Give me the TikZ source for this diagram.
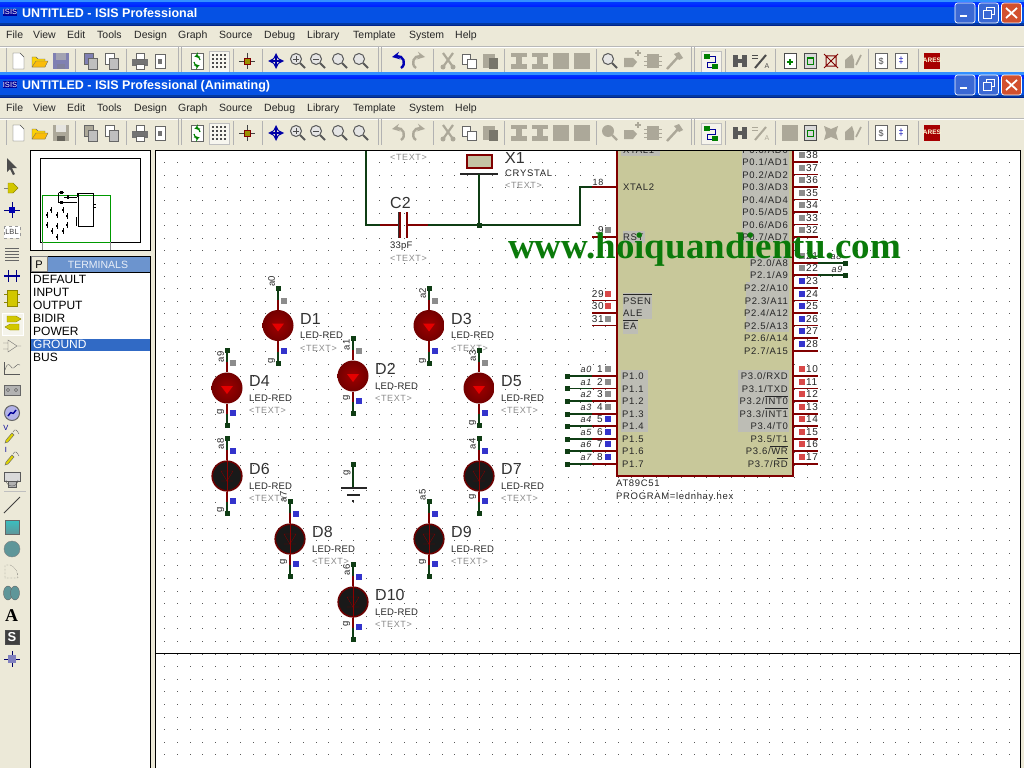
\documentclass[tikz,border=0pt]{standalone}
\usepackage{fontspec}
\setmainfont{Liberation Sans}
\newfontfamily\isisf[LetterSpace=7]{Liberation Sans}
\newfontfamily\isisn[LetterSpace=2]{Liberation Sans}
\newfontfamily\wmf{Liberation Serif}
\definecolor{xpbg}{HTML}{ECE9D8}
\definecolor{dis}{HTML}{ACA899}
\definecolor{wgreen}{HTML}{0F3D14}
\definecolor{pinred}{HTML}{800000}
\definecolor{chip}{HTML}{C8C89A}
\definecolor{patch}{HTML}{BDBDB5}
\definecolor{sqgray}{HTML}{8C8C8C}
\definecolor{sqblue}{HTML}{3333CC}
\definecolor{sqred}{HTML}{D84848}
\definecolor{teal}{HTML}{5F9699}
\definecolor{wm}{HTML}{0A7A0A}
\definecolor{HBlue}{HTML}{0551E4}
\definecolor{HDark}{HTML}{00238C}
\definecolor{btnblue}{HTML}{3A68D4}
\definecolor{btnred}{HTML}{D2502E}
\definecolor{sel}{HTML}{316AC5}
\definecolor{tabhead}{HTML}{6C94CE}
\tikzset{
 menutext/.style={anchor=west,inner sep=0pt,text height=8pt,text depth=2pt,font=\fontsize{10.5}{11}\selectfont,text=black!85},
 titletext/.style={anchor=west,inner sep=0pt,text height=9pt,text depth=2pt,font=\bfseries\fontsize{12.5}{13}\selectfont,text=white},
 bigl/.style={anchor=west,inner sep=0pt,font=\fontsize{16}{16}\selectfont,text=black!80},
 midl/.style={anchor=west,inner sep=0pt,text height=7pt,text depth=0pt,font=\isisn\fontsize{9.5}{10}\selectfont,text=black!85},
 widel/.style={anchor=west,inner sep=0pt,text height=7pt,text depth=0pt,font=\isisf\fontsize{9.5}{10}\selectfont,text=black!85},
 txtl/.style={anchor=west,inner sep=0pt,text height=7pt,text depth=0pt,font=\isisf\fontsize{9}{9}\selectfont,text=black!45},
 rotl/.style={inner sep=0pt,rotate=90,font=\isisn\fontsize{9.5}{10}\selectfont,text=black!85},
 pinl/.style={inner sep=0pt,text height=7pt,text depth=0pt,font=\isisf\fontsize{9.5}{10}\selectfont,text=black!85},
 numl/.style={inner sep=0pt,text height=7.5pt,text depth=0pt,font=\isisf\fontsize{10}{10}\selectfont,text=black!85},
 wlabel/.style={inner sep=0pt,text height=7pt,text depth=0pt,font=\isisf\fontsize{9}{9}\selectfont,text=black!85},
 listl/.style={anchor=west,inner sep=0pt,text height=8pt,text depth=1pt,font=\fontsize{12}{12}\selectfont},
 wirep/.style={wgreen,line width=1.4pt},
 wirer/.style={pinred,line width=1.4pt},
 sep/.style={black!30,line width=.7pt},
}
\newcommand\ic[3]{\begin{scope}[shift={(#1,#2)}]#3\end{scope}}
\newcommand\sq[3]{\fill[#3] (#1-3,#2-3) rectangle (#1+3,#2+3);}
\newcommand\icNew{\draw[black!70,fill=white] (-5,-8)--(2,-8)--(6,-4)--(6,8)--(-5,8)--cycle;}
\newcommand\icOpen{\fill[yellow!70!orange,draw=black!60] (-8,6)--(-8,-4)--(-4,-4)--(-2,-2)--(5,-2)--(5,6)--cycle;\draw[black!60,fill=yellow!50!orange] (-8,6)--(-4,0)--(8,0)--(5,6)--cycle;}
\newcommand\icSave[1]{\fill[#1] (-8,-8) rectangle (8,8);\fill[white!70!#1] (-5,-8) rectangle (5,-1);\fill[black!40!#1] (-4,3) rectangle (4,8);}
\newcommand\icDoc[1]{\draw[black!60,fill=#1] (-6,-8) rectangle (3,3);\draw[black!60,fill=black!25] (-2,-3) rectangle (7,8);}
\newcommand\icPrint{\fill[black!55] (-8,-2) rectangle (8,5);\fill[white,draw=black!60] (-4,-8) rectangle (4,-2);\fill[white,draw=black!60] (-4,3) rectangle (4,8);}
\newcommand\icPage{\draw[black!60,fill=white] (-5,-7) rectangle (5,7);\fill[black!55] (-2,-2) rectangle (2,3);}
\newcommand\icSync{\draw[black!60,fill=white] (-6,-8) rectangle (6,8);\draw[green!50!black,line width=1.2pt,->,>=stealth] (-3,1) arc (180:60:3.5);\draw[green!50!black,line width=1.2pt,->,>=stealth] (3,-1) arc (0:-120:3.5);}
\newcommand\icGrid{\fill[white!60!xpbg,draw=black!25] (-10,-10) rectangle (10,11);\foreach \a in {-6,-2,2,6}{\foreach \b in {-6,-2,2,6}{\fill[black!70] (\a-.6,\b-.6) rectangle (\a+.6,\b+.6);}}}
\newcommand\icOrigin{\draw[black!75] (-8,0)--(8,0) (0,-8)--(0,8);\fill[olive!90!yellow,draw=red!50!black] (-3,-3) rectangle (3,3);}
\newcommand\icPan{\draw[blue!65!black,line width=1.8pt,<->,>=stealth] (-8,0)--(8,0);\draw[blue!65!black,line width=1.8pt,<->,>=stealth] (0,-8)--(0,8);}
\newcommand\icZoom[1]{\draw[black!65,fill=black!10,line width=1pt] (-2,-2) circle (5.5);\draw[black!65,line width=2pt] (2,2)--(7,7);#1}
\newcommand\icUndo[1]{\draw[#1,line width=2.4pt,->,>=stealth] (3,7) .. controls (9,3) and (5,-6) .. (-6,-4);}
\newcommand\icRedo[1]{\draw[#1,line width=2.4pt,->,>=stealth] (-3,7) .. controls (-9,3) and (-5,-6) .. (6,-4);}
\newcommand\icCut{\draw[dis,line width=2.2pt] (-5,-8)--(5,6) (5,-8)--(-5,6);\fill[dis] (-5,6) circle (2.5) (5,6) circle (2.5);}
\newcommand\icCopy{\draw[black!60,fill=white] (-7,-7) rectangle (1,3);\draw[black!60,fill=white] (-2,-2) rectangle (7,7);}
\newcommand\icPaste{\fill[dis] (-7,-7) rectangle (5,7);\fill[dis!70!black] (-1,-3) rectangle (8,8);}
\newcommand\icAlign{\fill[dis] (-8,-8) rectangle (8,-4);\fill[dis] (-3,-4) rectangle (3,3);\fill[dis] (-8,3) rectangle (8,8);}
\newcommand\icBlock{\fill[dis] (-8,-8) rectangle (8,8);}
\newcommand\icChip{\fill[dis] (-6,-7) rectangle (6,7);\draw[dis,line width=1pt] (-9,-4)--(9,-4) (-9,0)--(9,0) (-9,4)--(9,4);}
\newcommand\icPlace{\fill[dis] (-8,-3)--(1,-3)--(5,1)--(1,6)--(-8,6)--cycle;\draw[dis,line width=1.4pt] (3,-8)--(9,-8) (6,-11)--(6,-5);}
\newcommand\icHammer{\draw[dis,line width=2.4pt] (-7,8)--(4,-4);\fill[dis] (0,-7)--(5,-9)--(9,-3)--(5,-1)--cycle;}
\newcommand\icNet{\fill[white!50!xpbg,draw=black!25] (-10,-10) rectangle (10,11);\fill[green!50!black] (-7,-7) rectangle (-1,-2);\fill[green!50!black] (1,3) rectangle (7,8);\draw[blue!60!black,line width=1pt] (-1,-4)--(4,-4)--(4,1)--(-4,1)--(-4,6)--(1,6);}
\newcommand\icBino{\fill[black!65] (-7,-6) rectangle (-2,6);\fill[black!65] (2,-6) rectangle (7,6);\fill[black!65] (-2,-2) rectangle (2,2);}
\newcommand\icWrench[1]{\draw[#1,line width=2pt] (-6,7)--(5,-6);\draw[#1] (-9,-6)--(-3,-6) (-9,-3)--(-3,-3);\node[inner sep=0pt,font=\fontsize{7}{7}\selectfont,text=#1] at (6,5) {A};}
\newcommand\icSheet[2]{\draw[black!70,fill=#1] (-6,-8) rectangle (6,7);#2}
\newcommand\icX[1]{\fill[#1] (-7,-7)--(0,-4)--(7,-7)--(5,0)--(7,7)--(0,4)--(-7,7)--(-5,0)--cycle;}
\newcommand\icHouse{\fill[dis] (-8,7)--(-8,-1)--(-1,-7)--(1,-1)--(1,7)--cycle;\draw[dis,line width=1.6pt] (8,-6)--(3,4);}
\newcommand\icDollar[2]{\draw[black!60,fill=white] (-6,-8) rectangle (6,7);\node[inner sep=0pt,font=\fontsize{9}{9}\selectfont,text=#2] at (0,0) {#1};}
\newcommand\icAres{\fill[red!65!black] (-8,-8) rectangle (8,8);\node[inner sep=0pt,font=\bfseries\fontsize{6.5}{7}\selectfont,text=white!85!yellow] at (0,-1) {ARES};}
\newcommand\toolbar[5]{%
 \foreach \p in {75,126,233,262,433,504,596,725,775,868,918}{\draw[sep] (\p,#1-12)--(\p,#1+12);}
 \foreach \p in {178,378,691}{\draw[sep] (\p,#1-14)--(\p,#1+12);\draw[sep] (\p+3,#1-14)--(\p+3,#1+12);}
 \draw[sep] (6,#1-13)--(6,#1+12);
 \ic{18}{#1}{\icNew}\ic{40}{#1}{\icOpen}\ic{61}{#1}{\icSave{#2}}
 \ic{90}{#1}{\icDoc{#3}}\ic{111}{#1}{\icDoc{white}}
 \ic{140}{#1}{\icPrint}\ic{160}{#1}{\icPage}
 \ic{197}{#1}{\icSync}\ic{219}{#1}{\icGrid}\ic{247}{#1}{\icOrigin}\ic{276}{#1}{\icPan}
 \ic{298}{#1}{\icZoom{\draw[black!70] (-5,-2)--(1,-2) (-2,-5)--(-2,1);}}
 \ic{318}{#1}{\icZoom{\draw[black!70] (-5,-2)--(1,-2);}}
 \ic{340}{#1}{\icZoom{}}\ic{361}{#1}{\icZoom{}}
 \ic{398}{#1}{\icUndo{#4}}\ic{419}{#1}{\icRedo{dis}}
 \ic{448}{#1}{\icCut}\ic{469}{#1}{\icCopy}\ic{490}{#1}{\icPaste}
 \ic{519}{#1}{\icAlign}\ic{540}{#1}{\icAlign}\ic{561}{#1}{\icBlock}\ic{582}{#1}{\icBlock}
 \ic{610}{#1}{#5}\ic{632}{#1}{\icPlace}\ic{653}{#1}{\icChip}\ic{674}{#1}{\icHammer}
 \ic{711}{#1}{\icNet}\ic{740}{#1}{\icBino}
 \ic{810}{#1}{\icSheet{black!15}{\draw[green!50!black,line width=1pt] (-3,-3) rectangle (3,3);}}
 \ic{853}{#1}{\icHouse}\ic{881}{#1}{\icDollar{\$}{black!70}}\ic{901}{#1}{\icDollar{\char"2021}{blue!70!black}}\ic{932}{#1}{\icAres}
}
\newcommand\titlebar[2]{%
 \fill[blue!55!cyan!80!white] (0,#1) rectangle (1024,#1+3);
 \fill[top color=blue!80!cyan,bottom color=blue!90!cyan] (0,#1+3) rectangle (1024,#1+7);
 \fill[HBlue] (0,#1+7) rectangle (1024,#1+23);
 \fill[black!30!HBlue] (0,#1+23) rectangle (1024,#1+25);
 \fill[HDark] (0,#1+25) rectangle (1024,#1+26);
 \node[fill=blue!60!black,inner sep=.4pt,text height=6pt,text depth=1pt,font=\fontsize{7.5}{8}\selectfont,text=white] (logo#1) at (10,#1+12.5) {ISIS};
 \node[titletext] (title#1) at (22,#1+14.3) {#2};
 \foreach \bx/\bc in {965/btnblue,988.5/btnblue,1011.5/btnred}{\fill[\bc,draw=white,rounded corners=2.5pt,line width=.7pt] (\bx-10,#1+3) rectangle (\bx+10,#1+23);}
 \fill[white] (960,#1+15) rectangle (967,#1+17);
 \draw[white,line width=.9pt] (983,#1+10) rectangle (991,#1+18);\draw[white,line width=.9pt] (986,#1+10)--(986,#1+7)--(994,#1+7)--(994,#1+14)--(991,#1+14);
 \draw[white,line width=1.8pt] (1006,#1+8)--(1017,#1+18) (1017,#1+8)--(1006,#1+18);
 \foreach \m/\t in {6/File,33/View,67/Edit,97/Tools,134/Design,178/Graph,219/Source,264/Debug,307/Library,353/Template,409/System,455/Help}{\node[menutext] at (\m,#1+36) {\t};}
 \draw[black!28] (0,#1+46)--(1024,#1+46);
 \draw[white] (0,#1+47)--(1024,#1+47);
}
% name,x,y,live,top square,bottom square,dy of top label,top label,dy of g label
\newcommand\led[9]{%
 \coordinate (#1t) at (#2,#3-37.5);\coordinate (#1b) at (#2,#3+37.5);
 \ifnum#4=1
  \node[circle,minimum size=31pt,inner sep=0pt,inner color=red!62!black,outer color=red!45!black] (#1c) at (#2,#3) {};
  \fill[red!90!black] (#2-6,#3-2)--(#2+6,#3-2)--(#2,#3+6)--cycle;
 \else
  \node[circle,minimum size=29.6pt,inner sep=0pt,fill=black!90,draw=red!42!black,line width=1.6pt] (#1c) at (#2,#3) {};
  \draw[red!50!black] (#2-6,#3-5)--(#2+6,#3-5)--(#2,#3+5)--cycle (#2-6,#3+5)--(#2+6,#3+5);
  \draw[red!55!black,line width=1pt] (#1c.north)--(#1c.south);
 \fi
 \draw[wirep] (#1t)--(#2,#3-22);\draw[wirer] (#2,#3-26)--(#1c.north);
 \draw[wirep] (#1b)--(#2,#3+22);\draw[wirer] (#2,#3+26)--(#1c.south);
 \fill[wgreen] (#2-2.5,#3-40) rectangle (#2+2.5,#3-35);
 \fill[wgreen] (#2-2.5,#3+35) rectangle (#2+2.5,#3+40);
 \sq{#2+6}{#3-25}{#5}\sq{#2+6}{#3+25}{#6}
 \node[rotl] (#1lt) at (#2-6.5,#3+#7) {#8};
 \node[rotl] (#1lb) at (#2-6.5,#3+#9) {g};
 \node[bigl] (#1n) at (#2+22,#3-7) {#1};
 \node[midl] (#1m) at (#2+22,#3+9.5) {LED-RED};
 \node[txtl] (#1x) at (#2+22,#3+22) {<TEXT>};
}
\begin{document}
\begin{tikzpicture}[x=1pt,y=-1pt]
\useasboundingbox (0,0) rectangle (1024,768);
\fill[xpbg] (0,0) rectangle (1024,768);
\titlebar{0}{UNTITLED - ISIS Professional}
\toolbar{61}{blue!40!black!50}{blue!40!black!50}{blue!70!black}{\icZoom{}}
\ic{761}{61}{\icWrench{black!70}}\ic{790}{61}{\icSheet{white}{\draw[green!50!black,line width=1.6pt] (-3,1)--(3,1) (0,-2)--(0,4);}}
\ic{831}{61}{\draw[red!50!black,line width=1pt] (-7,-7)--(7,7) (7,-7)--(-7,7) (-5,-5) rectangle (5,5);}
\titlebar{72}{UNTITLED - ISIS Professional (Animating)}
\toolbar{133}{dis}{dis}{dis}{\fill[dis] (-2,-2) circle (6);\draw[dis,line width=2.2pt] (2,2)--(7,7);}
\ic{761}{133}{\icWrench{dis}}\ic{790}{133}{\icBlock}\ic{831}{133}{\icX{dis}}
% ---------- left tool column
\ic{12}{166}{\fill[black!70] (-5,-8)--(-5,6)--(-2,3)--(1,9)--(3,8)--(0,2)--(5,2)--cycle;}
\ic{12}{188}{\fill[yellow!60!olive,draw=olive] (-4,-5)--(1,-5)--(6,0)--(1,5)--(-4,5)--cycle;\draw[black!50] (-8,0)--(-4,0);}
\ic{12}{210}{\draw[blue!50!black] (-8,0)--(8,0) (0,-8)--(0,8);\fill[blue!70!black] (-3,-3) rectangle (3,3);}
\ic{12}{232}{\draw[black!40,dashed,fill=white] (-8,-6) rectangle (8,6);\node[inner sep=0pt,font=\fontsize{7.5}{8}\selectfont,text=black!75] (lblicon) at (0,0) {LBL};}
\ic{12}{254}{\draw[black!60] (-7,-6)--(7,-6) (-7,-3)--(7,-3) (-7,0)--(7,0) (-7,3)--(7,3) (-7,6)--(7,6);}
\ic{12}{276}{\draw[blue!60!black,line width=2pt] (-8,0)--(8,0);\draw[blue!50!black] (-4,-6)--(-4,6) (4,-6)--(4,6);}
\ic{12}{298}{\fill[yellow!60!olive,draw=olive] (-5,-8) rectangle (5,8);\draw[olive] (-8,-4)--(-5,-4) (-8,4)--(-5,4) (5,-4)--(8,-4) (5,4)--(8,4);}
\draw[white,fill=white!50!xpbg] (2,313) rectangle (23,335);
\ic{13}{323}{\fill[yellow!60!olive,draw=olive] (-6,-7)--(3,-7)--(8,-4)--(3,-1)--(-6,-1)--cycle;\fill[yellow!60!olive,draw=olive] (-8,4)--(-3,1)--(6,1)--(6,7)--(-3,7)--cycle;}
\ic{12}{346}{\draw[black!60] (-4,-6)--(-4,6)--(5,0)--cycle (-9,-3)--(-4,-3) (-9,3)--(-4,3) (5,0)--(9,0);}
\ic{12}{368}{\draw[black!65] (-8,6)--(-8,-6) (-8,6)--(8,6);\draw[black!65] (-7,2) .. controls (-4,-8) and (-2,-2) .. (0,0) .. controls (2,2) and (5,-6) .. (8,-3);}
\ic{12}{390}{\fill[black!30,draw=black!60] (-8,-5) rectangle (8,5);\draw[black!70] (-4,0) circle (1.6) (4,0) circle (1.6);}
\ic{12}{413}{\fill[black!30!blue!30!white,draw=black!60,line width=1pt] (0,0) circle (7.5);\draw[blue!60!black,line width=1.4pt] (-4,3) .. controls (-1,-1) and (-1,-1) .. (0,0) .. controls (1,1) and (1,1) .. (4,-3);}
\ic{12}{435}{\fill[yellow!70!olive,draw=black!60] (-7,8)--(-6,5)--(0,-2)--(2,0)--(-4,7)--cycle;\draw[black!60] (1,-3) .. controls (3,-7) and (5,-5) .. (7,-1);\node[inner sep=0pt,font=\fontsize{7.5}{8}\selectfont,text=blue!60!black] (vicon) at (-6,-7) {V};}
\ic{12}{457}{\fill[yellow!70!olive,draw=black!60] (-7,8)--(-6,5)--(0,-2)--(2,0)--(-4,7)--cycle;\draw[black!60] (1,-3) .. controls (3,-7) and (5,-5) .. (7,-1);\node[inner sep=0pt,font=\fontsize{7.5}{8}\selectfont,text=blue!60!black] (iicon) at (-6,-7) {I};}
\ic{12}{479}{\draw[black!65,fill=black!15] (-8,-7) rectangle (8,2);\draw[black!65,fill=black!30] (-4,2) rectangle (4,8);\draw[black!65] (-6,1) arc (180:0:6);}
\draw[black!25] (4,491)--(26,491);
\draw[black!75,line width=1pt] (4,513)--(20,497);
\draw[black!60,top color=teal!60!cyan,bottom color=teal,line width=1pt] (5,520) rectangle (19,534);
\fill[teal,draw=black!50] (12,549) circle (8);
\draw[black!75,densely dotted] (5,578)--(5,565)--(10,565) .. controls (15,566) and (18,572) .. (18,578)--cycle;
\fill[teal,draw=black!60] (8,593) ellipse (4.5 and 7);\fill[teal,draw=black!60] (15,593) ellipse (4.5 and 7);
\node[inner sep=0pt,font=\bfseries\fontsize{18}{18}\selectfont] (aicon) at (11.5,615.5) {\wmf A};
\draw[black!70,fill=black!75] (5,630) rectangle (19,644);
\node[inner sep=0pt,font=\bfseries\fontsize{13}{13}\selectfont,text=white] (sicon) at (12,637) {S};
\draw[blue!40!black] (4,659)--(20,659) (12,651)--(12,667);\fill[black!50!blue!50!white] (8,655) rectangle (16,663);
% ---------- side panel
\fill[white] (31,151) rectangle (150,768);
\draw[black,line width=.9pt] (30.5,150.5) rectangle (150.5,250.5);
\draw[black,line width=.9pt] (40.5,158.5) rectangle (140.5,242);
\draw[green!60!black,line width=.8pt] (42.5,195.5)--(110,195.5)--(110,242)--(42.5,242)--cycle;
\draw[black!45] (42.5,242)--(42.5,250) (110,242)--(110,250);
\draw[black,line width=.8pt] (78,193.5) rectangle (93,226);
\draw[black,line width=.8pt] (58.5,192.5)--(58.5,202)--(77,202) (64,197)--(77,197) (77,197)--(77,193) (58.5,192.5)--(64,192.5);
\fill[black] (60,191) rectangle (63,194);\fill[black] (60,201) rectangle (63,204);
\fill[black] (67,195) rectangle (69,199);
\foreach \a/\b in {51/210,57/215,63/210,47/215,67/216,47/225,57/226,67/225,52/231,63/231,57/237}{\fill[black] (\a-.4,\b-3) rectangle (\a+.4,\b+3);\fill[black] (\a-1,\b-1) rectangle (\a+1,\b+1);}
\fill[black] (75.5,217) rectangle (77,226);
\fill[black] (94,204) rectangle (96,205);\fill[black] (94,207) rectangle (96,208);
\fill[xpbg] (31,251) rectangle (150,256);
\draw[black,line width=.9pt] (30.5,256) rectangle (150.5,272);
\fill[tabhead] (48,256.5) rectangle (150,271.5);
\draw[black!50,fill=xpbg] (31,256.5) rectangle (47,271.5);
\node[inner sep=0pt,text height=8pt,text depth=0pt,font=\fontsize{11}{11}\selectfont] (ptab) at (39,264) {P};
\node[inner sep=0pt,text height=8pt,text depth=0pt,font=\fontsize{10.5}{11}\selectfont,text=white!85!tabhead] (terms) at (98,264) {TERMINALS};
\draw[black,line width=.9pt] (30.5,272)--(30.5,768) (150.5,272)--(150.5,768);
\fill[sel] (31,338.5) rectangle (150,351);
\foreach \yy/\t/\c in {280/DEFAULT/black,293/INPUT/black,306/OUTPUT/black,319/BIDIR/black,332/POWER/black,345/GROUND/white,358/BUS/black}{\node[listl,text=\c] at (33,\yy) {\t};}
% ---------- canvas
\fill[white] (156,151) rectangle (1020,768);
\begin{scope}
\clip (156,151) rectangle (1020,768);
\foreach \i in {-3,...,65}{\foreach \j in {-10,...,38}{\fill[black!65] ({202.7+12.6*\i-.5},{276+12.6*\j-.5}) rectangle ++(1,1);}}
% chip
\fill[chip] (617,140) rectangle (793,476);
\fill[patch] (621,142) rectangle (660,156);
\fill[patch] (742,142) rectangle (789,242);
\fill[patch] (750,256) rectangle (789,282);
\fill[patch] (746,282) rectangle (789,332);
\fill[patch] (623,231) rectangle (645,243);
\fill[patch] (623,293) rectangle (652,319);
\fill[patch] (623,319) rectangle (638,334);
\fill[patch] (621,370) rectangle (648,432);
\fill[patch] (738,370) rectangle (789,432);
\draw[pinred,line width=2pt] (617,140) rectangle (793,476);
\foreach \yy/\a/\b/\n/\c in {150/P0.0/AD0/39/sqgray,162/P0.1/AD1/38/sqgray,174.5/P0.2/AD2/37/sqgray,187/P0.3/AD3/36/sqgray,199.5/P0.4/AD4/35/sqgray,212/P0.5/AD5/34/sqgray,224.5/P0.6/AD6/33/sqgray,237/P0.7/AD7/32/sqgray,263/P2.0/A8/21/sqgray,275/P2.1/A9/22/sqgray,288/P2.2/A10/23/sqblue,300.5/P2.3/A11/24/sqblue,313/P2.4/A12/25/sqblue,325.5/P2.5/A13/26/sqblue,338/P2.6/A14/27/sqblue,351/P2.7/A15/28/sqblue,376/P3.0/RXD/10/sqred,388.5/P3.1/TXD/11/sqred,401/P3.2/INT0/12/sqred,414/P3.3/INT1/13/sqred,426/P3.4/T0/14/sqred,439/P3.5/T1/15/sqred,451/P3.6/WR/16/sqred,464/P3.7/RD/17/sqred}{
 \node[pinl,anchor=east] at (788,\yy) {\a/\b};
 \draw[wirer] (793,\yy)--(818,\yy);
 \node[numl,anchor=west] at (806,\yy-7) {\n};
 \sq{802}{\yy-7}{\c}
}
\foreach \yy/\t/\n/\c in {150/XTAL1/19/sqgray,187/XTAL2/18/sqgray,237/RST/9/sqgray,300.5/PSEN/29/sqred,313/ALE/30/sqred,325.5/EA/31/sqgray}{
 \node[pinl,anchor=west] at (623,\yy) {\t};
 \draw[wirer] (592,\yy)--(617,\yy);
}
\foreach \yy/\n/\c in {237/9/sqgray,300.5/29/sqred,313/30/sqred,325.5/31/sqgray}{
 \node[numl,anchor=east] at (604,\yy-7) {\n};
 \sq{608}{\yy-7}{\c}
}
\node[numl] (n18) at (598,182) {\fontsize{9}{9}\selectfont 18};
\draw[black!85,line width=.7pt] (623,294)--(652,294) (623,320)--(638,320) (765,396)--(788,396) (765,408)--(788,408) (770,446)--(788,446) (777,458)--(788,458);
\foreach \yy/\t/\n/\c in {376/0/1/sqgray,388.5/1/2/sqgray,401/2/3/sqgray,414/3/4/sqgray,426/4/5/sqblue,439/5/6/sqblue,451/6/7/sqblue,464/7/8/sqblue}{
 \coordinate (px\t) at (617,\yy);\coordinate (pe\t) at (567,\yy);
 \node[pinl,anchor=west] at (622,\yy) {P1.\t};
 \draw[wirer] (px\t)--(592,\yy);
 \draw[wirep] (592,\yy)--(pe\t);
 \fill[wgreen] (564.5,\yy-2.5) rectangle (569.5,\yy+2.5);
 \node[wlabel] at (586,\yy-7) {\em a\t};
 \node[numl] at (600,\yy-7) {\n};
 \sq{608}{\yy-7}{\c}
}
\node[widel] (mcu) at (616,483) {AT89C51};
\node[widel] (prog) at (616,496) {PROGRAM=lednhay.hex};
% crystal net
\coordinate (xt) at (617,187);\coordinate (cl) at (366,140);\coordinate (jn) at (479,225);
\draw[wirep] (cl)--(366,225)--(385,225);
\draw[wirep] (428,225)--(580,225)--(580,187)--(592,187);
\draw[wirer] (380,225)--(400,225) (407,225)--(428,225);
\draw[wirer] (400,212)--(400,238) (407,212)--(407,238);
\draw[black!80,line width=1pt] (398.5,212)--(398.5,238);
\node[bigl] (c2) at (390,203) {C2};
\node[midl] (c2v) at (390,245) {33pF};
\node[txtl] (c2t) at (390,258) {<TEXT>};
\node[txtl] (x0t) at (390,157) {<TEXT>};
\draw[pinred,line width=1.8pt,fill=chip!60!patch] (467,155) rectangle (492,168);
\draw[black!85,line width=1.4pt] (460,174)--(498,174);
\draw[wirep] (479,174)--(jn);
\fill[wgreen] (476.5,222.5) rectangle (481.5,227.5);
\node[bigl] (x1) at (505,158) {X1};
\node[widel] (x1v) at (505,173) {CRYSTAL};
\node[txtl] (x1t) at (505,185) {<TEXT>};
% output wires
\coordinate (o8) at (845,263);\coordinate (o9) at (845,275);
\draw[wirep] (818,263)--(o8) (818,275)--(o9);
\fill[wgreen] (842.5,260.5) rectangle (847.5,265.5);\fill[wgreen] (842.5,272.5) rectangle (847.5,277.5);
\node[wlabel] (la8) at (836,256) {\em a8};
\node[wlabel] (la9) at (837,268.5) {\em a9};
% LEDs
\led{D1}{278}{325.5}{1}{sqgray}{sqblue}{-44}{a0}{35}
\led{D2}{353}{376}{1}{sqgray}{sqblue}{-31}{a1}{22}
\led{D3}{429}{325.5}{1}{sqgray}{sqblue}{-32}{a2}{35}
\led{D4}{227}{388}{1}{sqgray}{sqblue}{-31}{a9}{24}
\led{D5}{479}{388}{1}{sqgray}{sqblue}{-32}{a3}{35}
\led{D6}{227}{476}{0}{sqblue}{sqblue}{-32}{a8}{34}
\led{D7}{479}{476}{0}{sqblue}{sqblue}{-32}{a4}{21}
\led{D8}{290}{539}{0}{sqblue}{sqblue}{-42}{a7}{23}
\led{D9}{429}{539}{0}{sqblue}{sqblue}{-44}{a5}{23}
\led{D10}{353}{602}{0}{sqblue}{sqblue}{-32}{a6}{22}
% ground
\coordinate (gt) at (353,464);\coordinate (gb) at (353,488);
\draw[wirep] (gt)--(gb);
\fill[wgreen] (350.5,461.5) rectangle (355.5,466.5);
\draw[black!85,line width=1.2pt] (341,488)--(367,488);
\draw[black!85,line width=1.2pt] (347,495)--(360,495);
\fill[black!85] (352,500) rectangle (354,502);
\node[rotl] (gg) at (347,473) {g};
% divider
\draw[black,line width=1pt] (156,653)--(1020,653);
\end{scope}
\draw[black,line width=.9pt] (155.5,768)--(155.5,150.5)--(1020,150.5)--(1020,768);
% watermark
\node[inner sep=0pt,font=\wmf\bfseries\fontsize{37}{37}\selectfont,text=wm] (wmark) at (704.5,250) {www.hoiquandientu.com};
\end{tikzpicture}
\end{document}
